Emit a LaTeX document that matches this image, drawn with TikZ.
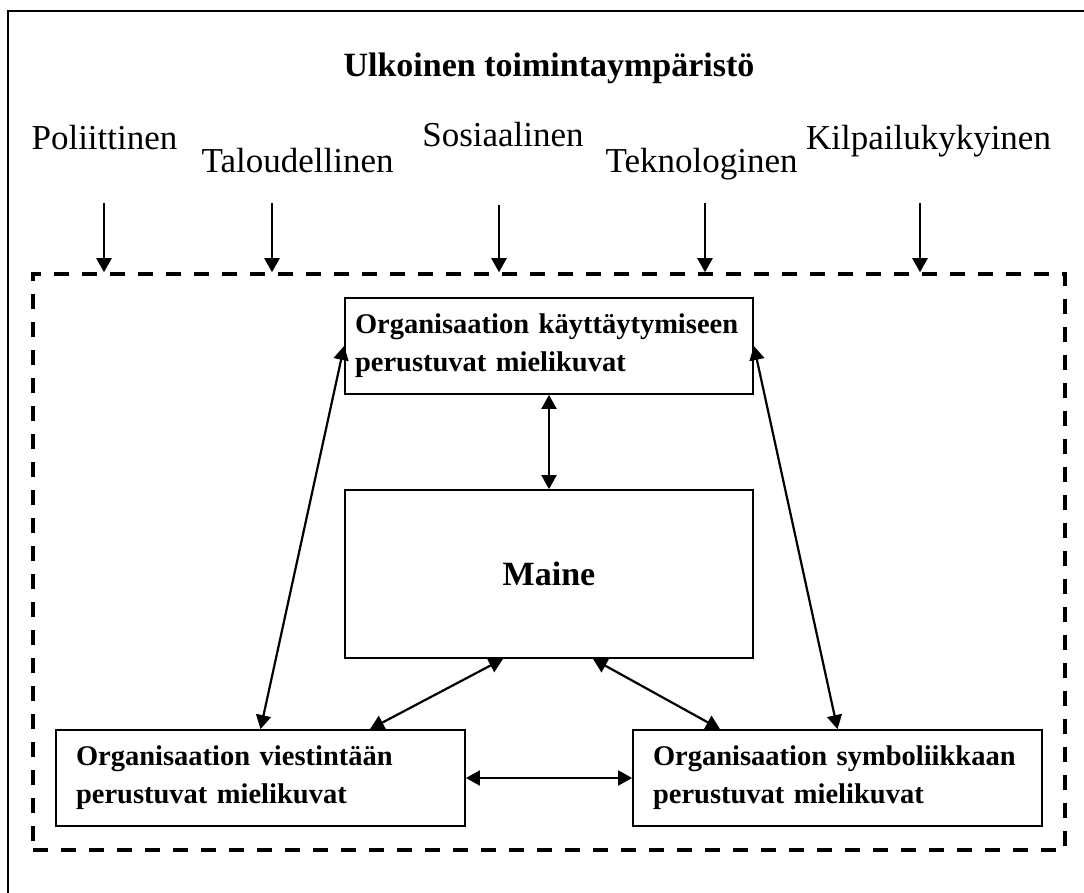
\documentclass[tikz,border=0pt]{standalone}
\usepackage{fontspec}
\setmainfont{Liberation Serif}
\usetikzlibrary{arrows.meta,calc}
\newcommand\imgfont{\bfseries\fontsize{28.5}{38}\selectfont}
\begin{document}
\begin{tikzpicture}[x=1pt,y=-1pt,
  every node/.style={inner sep=0pt},
  >={Triangle[length=14pt,width=15pt]},
  frame/.style={line width=2.5pt},
  envbox/.style={draw, line width=3.5pt, dash pattern=on 15pt off 13pt,
    minimum width=1032pt, minimum height=576pt},
  imgbox/.style={draw, line width=1.8pt, minimum height=96pt, align=left,
    font=\imgfont},
  factor/.style={anchor=base, font=\fontsize{35}{42}\selectfont},
  push/.style={->, line width=2.2pt},
  conn/.style={<->, line width=2.2pt}]

  \useasboundingbox (0,0) rectangle (1084,893);
  \clip (0,0) rectangle (1084,893);

  % outer frame
  \draw[frame] (8,11) rectangle (1200,1000);

  % heading and environment factors
  \node[anchor=base, font=\bfseries\fontsize{34}{40}\selectfont] (title) at (549,77)
    {Ulkoinen toimintaympäristö};
  \node[factor] (l1) at (104.5,150) {Poliittinen};
  \node[factor] (l2) at (297.5,173) {Taloudellinen};
  \node[factor] (l3) at (503,147) {Sosiaalinen};
  \node[factor] (l4) at (701.5,173) {Teknologinen};
  \node[factor] (l5) at (928.5,150) {Kilpailukykyinen};

  % organisation boundary
  \node[envbox] (env) at (549,562) {};

  % boxes
  \node[imgbox, text width=388pt, inner xsep=10pt] (top) at (549,346)
    {Organisaation käyttäytymiseen\\perustuvat mielikuvat};
  \node[draw, line width=1.8pt, minimum width=408pt, minimum height=168pt,
    font=\bfseries\fontsize{34}{40}\selectfont] (maine) at (549,574) {Maine};
  \node[imgbox, text width=369pt, inner xsep=20pt] (bl) at (260.5,778)
    {Organisaation viestintään\\perustuvat mielikuvat};
  \node[imgbox, text width=369pt, inner xsep=20pt] (br) at (837.5,778)
    {Organisaation symboliikkaan\\perustuvat mielikuvat};

  % influences from the environment
  \coordinate (a1) at (104,203);
  \coordinate (a2) at (272,203);
  \coordinate (a3) at (499,205);
  \coordinate (a4) at (705,203);
  \coordinate (a5) at (920,203);
  \foreach \a in {a1,a2,a3,a4,a5}
    \draw[push] (\a) -- (\a |- env.north);

  % relations between the images and reputation
  \draw[conn] (top.south) -- (maine.north);
  \draw[conn] (top.west) -- (bl.north);
  \draw[conn] (top.east) -- (br.north);
  \draw[conn] ([xshift=-46pt]maine.south) -- ([xshift=109.5pt]bl.north);
  \draw[conn] ([xshift=44pt]maine.south) -- ([xshift=-117.5pt]br.north);
  \draw[conn] (bl.east) -- (br.west);
\end{tikzpicture}
\end{document}
